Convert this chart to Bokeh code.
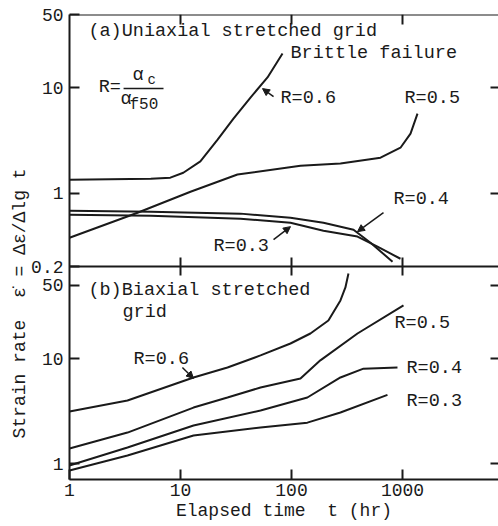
import numpy as np
from bokeh.plotting import figure
from bokeh.models import (LogAxis, FixedTicker, Range1d, Label, Arrow, NormalHead,
                          LogScale, CustomJSTickFormatter, Title)
from bokeh.embed import file_html
from bokeh.resources import INLINE

# ---------------- data ----------------
# (a) Uniaxial stretched grid
ta_06 = [1, 5.4, 8.1, 10.6, 15.1, 21.5, 30, 42.7, 60.8, 83]
va_06 = [1.34, 1.37, 1.40, 1.56, 2.0, 3.2, 5.1, 8.1, 12.6, 21.3]
ta_05 = [1, 4.1, 12.3, 32.6, 120.5, 276, 634, 959, 1181, 1365]
va_05 = [0.376, 0.65, 1.03, 1.50, 1.82, 1.91, 2.17, 2.7, 3.68, 5.7]
ta_04 = [1, 5.4, 34.7, 97.9, 194, 362, 515, 813]
va_04 = [0.68, 0.665, 0.637, 0.583, 0.522, 0.448, 0.337, 0.222]
ta_03 = [1, 5.4, 34.7, 97.9, 194, 393, 595, 959]
va_03 = [0.622, 0.609, 0.57, 0.522, 0.438, 0.385, 0.309, 0.237]

# (b) Biaxial stretched grid
tb_06 = [1, 3.33, 13.1, 26.5, 52.6, 97.9, 148, 215, 276, 306, 326]
vb_06 = [3.13, 3.98, 6.6, 8.2, 10.7, 13.9, 17.3, 23, 35.7, 47.5, 64.6]
tb_05 = [1, 3.33, 13.1, 26.5, 52.6, 120.5, 182, 393, 1021]
vb_05 = [1.39, 1.97, 3.41, 4.25, 5.3, 6.45, 9.6, 17.3, 32]
tb_04 = [1, 3.33, 13.1, 52.6, 139, 276, 445, 901]
vb_04 = [0.957, 1.42, 2.3, 3.2, 4.25, 6.6, 8.0, 8.2]
tb_03 = [1, 3.33, 13.1, 52.6, 139, 276, 732]
vb_03 = [0.857, 1.19, 1.85, 2.2, 2.45, 3.06, 4.5]

x_ticks = [1, 10, 100, 1000]
ya_ticks = [0.2, 1, 10, 50]
yb_ticks = [1, 10, 50]
mid_ticks = [10, 100, 1000]
right_a_ticks = [1, 10]

# ---------------- layout ----------------
W, H = 498, 526
ML, MT, MB = 69, 14, 47
T_PG = MT                     # frame top
B_PG = H - MB                 # frame bottom (479)
MID_PG = 266                  # boundary between the panels
DEC_X = 111.0
XMAX = 10 ** ((W - ML) / DEC_X)

# top panel: 50 at frame top, 0.2 at boundary
DA = (MID_PG - T_PG) / np.log10(50 / 0.2)
TOP_RANGE = (0.2 / 10 ** ((B_PG - MID_PG) / DA), 50)
# bottom panel: 10 at y=358, 1 at y=463
DB = 105.0
BOT_RANGE = (10 / 10 ** ((B_PG - 358) / DB), 10 * 10 ** ((358 - T_PG) / DB))
A0, A1 = TOP_RANGE
B0, B1 = BOT_RANGE


def b_to_a(v):
    f = (np.log10(v) - np.log10(B0)) / (np.log10(B1) - np.log10(B0))
    return float(10 ** (np.log10(A0) + f * (np.log10(A1) - np.log10(A0))))


INK = "#1a1a1a"
FONT = "Liberation Mono"
FS = "18px"
FSL = "18.5px"

p = figure(width=W, height=H, x_axis_type="log", y_axis_type="log",
           x_range=Range1d(1, XMAX), y_range=Range1d(*TOP_RANGE),
           output_backend="svg", toolbar_location=None,
           min_border_left=ML, min_border_right=0, min_border_top=MT,
           min_border_bottom=MB)
p.extra_y_ranges = {"b": Range1d(*BOT_RANGE)}
p.extra_y_scales = {"b": LogScale()}
p.outline_line_color = None
p.grid.grid_line_color = None
p.background_fill_color = "white"
p.border_fill_color = "white"

fmt = CustomJSTickFormatter(code="return String(tick)")
yfmt = CustomJSTickFormatter(args=dict(a0=A0, a1=A1, b0=B0, b1=B1), code="""
if (tick >= 0.19) { return String(tick); }
const L = Math.log10;
const f = (L(tick) - L(a0)) / (L(a1) - L(a0));
const vb = Math.pow(10, L(b0) + f * (L(b1) - L(b0)));
return String(Math.round(vb));
""")


def style_axis(ax, ticks, tin, tout=0, labels=True, line=True, formatter=fmt):
    ax.ticker = FixedTicker(ticks=ticks, minor_ticks=[])
    ax.major_tick_in = tin
    ax.major_tick_out = tout
    ax.major_tick_line_width = 2
    ax.major_tick_line_color = INK
    ax.minor_tick_line_color = None
    ax.axis_line_width = 2
    ax.axis_line_color = INK if line else None
    ax.formatter = formatter
    ax.major_label_text_font = FONT
    ax.major_label_text_font_size = FS
    ax.major_label_text_color = INK if labels else None


# bottom axis with its title
xb = p.below[0]
style_axis(xb, x_ticks, 10)
xb.major_label_standoff = 4
xb.axis_label = "Elapsed time\u00a0 t (hr)"
xb.axis_label_text_font = FONT
xb.axis_label_text_font_size = FS
xb.axis_label_text_font_style = "normal"
xb.axis_label_text_color = INK
xb.axis_label_standoff = 2

# left axis: ticks of both panels (bottom panel values mapped through its range)
left_ticks = ya_ticks + [b_to_a(v) for v in yb_ticks]
style_axis(p.left[0], left_ticks, 10, formatter=yfmt)
p.left[0].major_label_standoff = 6

# y title spanning both panels
p.add_layout(Title(text="Strain rate\u00a0 ε\u0307 = Δε/Δlg t", align="left",
                   offset=B_PG - 438, text_font=FONT, text_font_size=FS,
                   text_font_style="normal", text_color=INK, standoff=-2), "left")

# top frame
axt = LogAxis(fixed_location=TOP_RANGE[1])
style_axis(axt, mid_ticks, 10, labels=False)
p.add_layout(axt, "above")

# boundary between panels
axm = LogAxis(fixed_location=0.2)
style_axis(axm, mid_ticks, 9, 9, labels=False)
p.add_layout(axm, "below")

# right side ticks
axr = LogAxis(fixed_location=XMAX)
style_axis(axr, right_a_ticks + [b_to_a(v) for v in yb_ticks], 8, labels=False, line=False)
p.add_layout(axr, "right")

# curves
for t, v in [(ta_06, va_06), (ta_05, va_05), (ta_04, va_04), (ta_03, va_03)]:
    p.line(t, v, line_width=2, line_color=INK)
for t, v in [(tb_06, vb_06), (tb_05, vb_05), (tb_04, vb_04), (tb_03, vb_03)]:
    p.line(t, v, line_width=2, line_color=INK, y_range_name="b")


def lab(x, y, text, rn="default", size=FSL, align="left"):
    p.add_layout(Label(x=x, y=y, text=text, y_range_name=rn, text_font=FONT,
                       text_font_size=size, text_color=INK, text_baseline="middle",
                       text_align=align))


def arrow(x0, y0, x1, y1, rn="default", head=True):
    p.add_layout(Arrow(x_start=x0, y_start=y0, x_end=x1, y_end=y1, y_range_name=rn,
                       line_width=1.5, line_color=INK,
                       end=NormalHead(size=7, fill_color=INK, line_color=INK) if head else None))


# top panel texts
lab(1.48, 34.4, "(a)Uniaxial stretched grid")
lab(97.9, 21.3, "Brittle failure")
lab(79.6, 7.9, "R=0.6")
lab(1042, 7.9, "R=0.5")
lab(829, 0.865, "R=0.4")
lab(19.8, 0.308, "R=0.3")
arrow(68.9, 8.28, 54.8, 9.86)
arrow(674, 0.65, 393, 0.429)
arrow(68.9, 0.36, 97.9, 0.479)

# R definition
lab(1.83, 10.1, "R=")
lab(3.69, 13.1, "α")
lab(5.04, 12.0, "c", size="14px")
arrow(3.07, 9.87, 7.03, 9.87, head=False)
lab(2.88, 7.75, "α")
lab(3.47, 6.95, "f50", size="16px")

# bottom panel texts
lab(1.48, 44.4, "(b)Biaxial stretched", rn="b")
lab(3.0, 27.4, "grid", rn="b")
lab(3.77, 9.78, "R=0.6", rn="b")
arrow(10.4, 8.2, 13.1, 6.46, rn="b")
lab(847, 21.5, "R=0.5", rn="b")
lab(1087, 8.03, "R=0.4", rn="b")
lab(1087, 3.89, "R=0.3", rn="b")

open("out.html", "w").write(file_html(p, INLINE))
